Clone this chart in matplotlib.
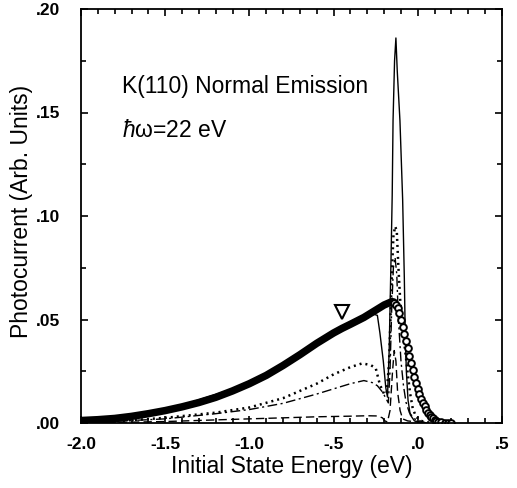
import matplotlib
matplotlib.use("Agg")
import matplotlib.pyplot as plt
from matplotlib.ticker import MultipleLocator, FixedLocator

plt.rcParams['font.family'] = ['Liberation Sans', 'DejaVu Sans']
plt.rcParams['mathtext.fontset'] = 'custom'
plt.rcParams['mathtext.rm'] = 'Liberation Sans'
plt.rcParams['mathtext.it'] = 'Liberation Sans:italic'

# ---- data ----
# thick curve (rising part, solid)
thick_E = [-2.0, -1.9, -1.8, -1.7, -1.6, -1.5, -1.4, -1.3, -1.2, -1.1,
           -1.0, -0.9, -0.8, -0.7, -0.6, -0.5, -0.45, -0.4, -0.32, -0.25,
           -0.2, -0.155]
thick_I = [0.0012, 0.0016, 0.0022, 0.0032, 0.0045, 0.006, 0.0078, 0.0099, 0.0124, 0.0155,
           0.019, 0.023, 0.0278, 0.0330, 0.0385, 0.0435, 0.0457, 0.0477, 0.051, 0.0545,
           0.057, 0.0586]

# thick curve, falling tail drawn with open circles
tail_E = [-0.15, -0.14, -0.13, -0.12, -0.11, -0.10, -0.09, -0.08, -0.07, -0.06,
          -0.05, -0.04, -0.03, -0.02, -0.01, 0.00, 0.01, 0.02, 0.03, 0.04,
          0.05, 0.06, 0.07, 0.08, 0.09, 0.10, 0.11, 0.12, 0.14, 0.16, 0.18, 0.20]
tail_I = [0.0585, 0.0580, 0.0570, 0.0555, 0.0530, 0.0500, 0.0465, 0.0430, 0.0395, 0.0360,
          0.0325, 0.0290, 0.0255, 0.0222, 0.0192, 0.0165, 0.0140, 0.0118, 0.0098, 0.0080,
          0.0064, 0.0050, 0.0039, 0.0030, 0.0022, 0.0016, 0.0011, 0.0007, 0.0003, 0.0001,
          0.0, 0.0]

# thin solid curve
solid_E = [-2.0, -1.5, -1.0, -0.5, -0.4, -0.3, -0.26, -0.24, -0.225, -0.205,
           -0.19, -0.18, -0.17, -0.16, -0.152, -0.147, -0.138, -0.13, -0.122, -0.106,
           -0.09, -0.08, -0.075, -0.068, -0.058, -0.045, -0.02, 0.05]
solid_I = [0.001, 0.006, 0.019, 0.0435, 0.0475, 0.0515, 0.0525, 0.052, 0.0435, 0.030,
           0.017, 0.0125, 0.035, 0.075, 0.11, 0.146, 0.175, 0.186, 0.170, 0.146,
           0.108, 0.07, 0.045, 0.025, 0.011, 0.004, 0.001, 0.0]

# dotted curve
dot_E = [-2.0, -1.8, -1.5, -1.2, -1.0, -0.8, -0.6, -0.5, -0.4, -0.33,
         -0.28, -0.25, -0.225, -0.2, -0.185, -0.17, -0.155, -0.145, -0.135, -0.125,
         -0.115, -0.105, -0.09, -0.075, -0.06, -0.045, -0.03, -0.01, 0.02, 0.08]
dot_I = [0.0, 0.0008, 0.0025, 0.005, 0.0075, 0.012, 0.019, 0.0235, 0.027, 0.0288,
         0.028, 0.0265, 0.0185, 0.014, 0.014, 0.03, 0.07, 0.09, 0.095, 0.093,
         0.075, 0.06, 0.045, 0.035, 0.024, 0.014, 0.007, 0.003, 0.001, 0.0]

# dash-dot curve
dashdot_E = [-2.0, -1.5, -1.2, -1.0, -0.8, -0.6, -0.5, -0.4, -0.32, -0.27,
             -0.24, -0.21, -0.19, -0.175, -0.165, -0.155, -0.145, -0.135, -0.125, -0.115,
             -0.1, -0.085, -0.07, -0.05, -0.02, 0.05]
dashdot_I = [0.0, 0.002, 0.0045, 0.0065, 0.0095, 0.014, 0.0165, 0.019, 0.0205, 0.0195,
             0.018, 0.015, 0.012, 0.0097, 0.025, 0.055, 0.075, 0.08, 0.072, 0.05,
             0.03, 0.018, 0.01, 0.005, 0.002, 0.0]

# dashed curve
dash_E = [-2.0, -1.5, -1.2, -1.0, -0.8, -0.6, -0.4, -0.3, -0.24, -0.21,
          -0.195, -0.18, -0.165, -0.15, -0.14, -0.13, -0.12, -0.105, -0.09, -0.06,
          0.0, 0.05]
dash_I = [0.0, 0.0007, 0.0015, 0.002, 0.0025, 0.003, 0.0033, 0.0035, 0.0034, 0.0025,
          0.001, 0.0005, 0.006, 0.025, 0.035, 0.03, 0.015, 0.006, 0.002, 0.001,
          0.0005, 0.0]

marker_E, marker_I = -0.452, 0.0538

xticks = [-2.0, -1.5, -1.0, -0.5, 0.0, 0.5]
xtick_labels = ['-2.0', '-1.5', '-1.0', '-.5', '.0', '.5']
yticks = [0.0, 0.05, 0.10, 0.15, 0.20]
ytick_labels = ['.00', '.05', '.10', '.15', '.20']

# ---- figure ----
fig = plt.figure(figsize=(5.17, 4.88), dpi=100)
ax = fig.add_axes([81/517, 65/488, 421/517, 414/488])

ax.plot(dash_E, dash_I, color='black', lw=1.0, ls=(0, (6, 3)))
ax.plot(dashdot_E, dashdot_I, color='black', lw=1.0, ls=(0, (7, 2.5, 1.5, 2.5)))
ax.plot(dot_E, dot_I, color='black', lw=1.8, ls=(0, (0.8, 1.6)))
ax.plot(solid_E, solid_I, color='black', lw=1.0)
ax.plot(thick_E, thick_I, color='black', lw=5.4, solid_capstyle='round',
        solid_joinstyle='round')
ax.plot(tail_E, tail_I, ls='none', marker='o', ms=4.8, mfc='white',
        mec='black', mew=1.4)
ax.plot([marker_E], [marker_I], ls='none', marker='v', ms=10, mfc='white',
        mec='black', mew=1.5)

ax.text(-1.757, 0.1628, 'K(110) Normal Emission', fontsize=16.5,
        ha='left', va='center')
ax.text(-1.757, 0.1415, r'$\hbar$ω=22 eV', fontsize=16.5,
        ha='left', va='center')

ax.set_xlim(-2.0, 0.5)
ax.set_ylim(0.0, 0.20)
ax.xaxis.set_major_locator(FixedLocator(xticks))
ax.set_xticklabels(xtick_labels)
ax.yaxis.set_major_locator(FixedLocator(yticks))
ax.set_yticklabels(ytick_labels)
ax.xaxis.set_minor_locator(MultipleLocator(0.1))
ax.yaxis.set_minor_locator(MultipleLocator(0.025))
ax.tick_params(which='both', direction='in', top=True, right=True, width=1.2)
ax.tick_params(which='major', length=5, labelsize=12.5)
ax.tick_params(axis='x', which='major', pad=10)
ax.tick_params(axis='y', which='major', pad=15)
ax.tick_params(which='minor', length=3.5)
for lab in ax.get_xticklabels() + ax.get_yticklabels():
    lab.set_fontweight('bold')
for sp in ax.spines.values():
    sp.set_linewidth(1.3)

ax.set_xlabel('Initial State Energy (eV)', fontsize=16.5, labelpad=2)
ax.set_ylabel('Photocurrent (Arb. Units)', fontsize=16.5)
ax.yaxis.set_label_coords(-0.113, 0.51)

fig.savefig('out.png', dpi=100)
